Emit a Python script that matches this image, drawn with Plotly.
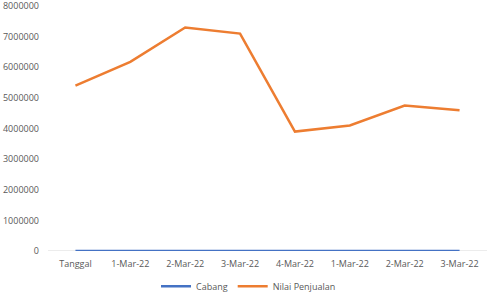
import plotly.graph_objects as go

categories = ["Tanggal", "1-Mar-22", "2-Mar-22", "3-Mar-22", "4-Mar-22", "1-Mar-22", "2-Mar-22", "3-Mar-22"]
cabang = [0, 0, 0, 0, 0, 0, 0, 0]
nilai_penjualan = [5400000, 6180000, 7300000, 7100000, 3900000, 4100000, 4750000, 4600000]
y_ticks = [0, 1000000, 2000000, 3000000, 4000000, 5000000, 6000000, 7000000, 8000000]

x = list(range(len(categories)))

fig = go.Figure()
fig.add_trace(go.Scatter(x=x, y=cabang, mode="lines", name="Cabang",
                         line=dict(color="#4472C4", width=2.5)))
fig.add_trace(go.Scatter(x=x, y=nilai_penjualan, mode="lines", name="Nilai Penjualan",
                         line=dict(color="#ED7D31", width=2.5)))

fig.update_layout(
    width=497, height=295,
    margin=dict(l=48, r=10, t=3, b=44, autoexpand=False),
    paper_bgcolor="white", plot_bgcolor="white",
    font=dict(family="Open Sans", size=9, color="#595959"),
    showlegend=True,
    legend=dict(orientation="h", x=0.5, xanchor="center", xref="container",
                y=0.03, yanchor="middle", yref="container",
                font=dict(size=9, color="#595959"), itemwidth=30),
    xaxis=dict(tickmode="array", tickvals=x, ticktext=categories,
               range=[-0.5, len(categories) - 0.5], showgrid=False,
               zeroline=False, showline=False, ticks="", ticklabelstandoff=6),
    yaxis=dict(range=[0, 8100000], tickmode="array", tickvals=y_ticks,
               ticktext=[str(v) for v in y_ticks], showgrid=False,
               zeroline=False, showline=False, ticks="", ticklabelstandoff=8,
               ticklabeloverflow="allow"),
)
fig.add_shape(type="line", xref="paper", yref="y", x0=0, x1=1, y0=0, y1=0,
              line=dict(color="#D9D9D9", width=1), layer="below")

fig.write_html("out.html")
